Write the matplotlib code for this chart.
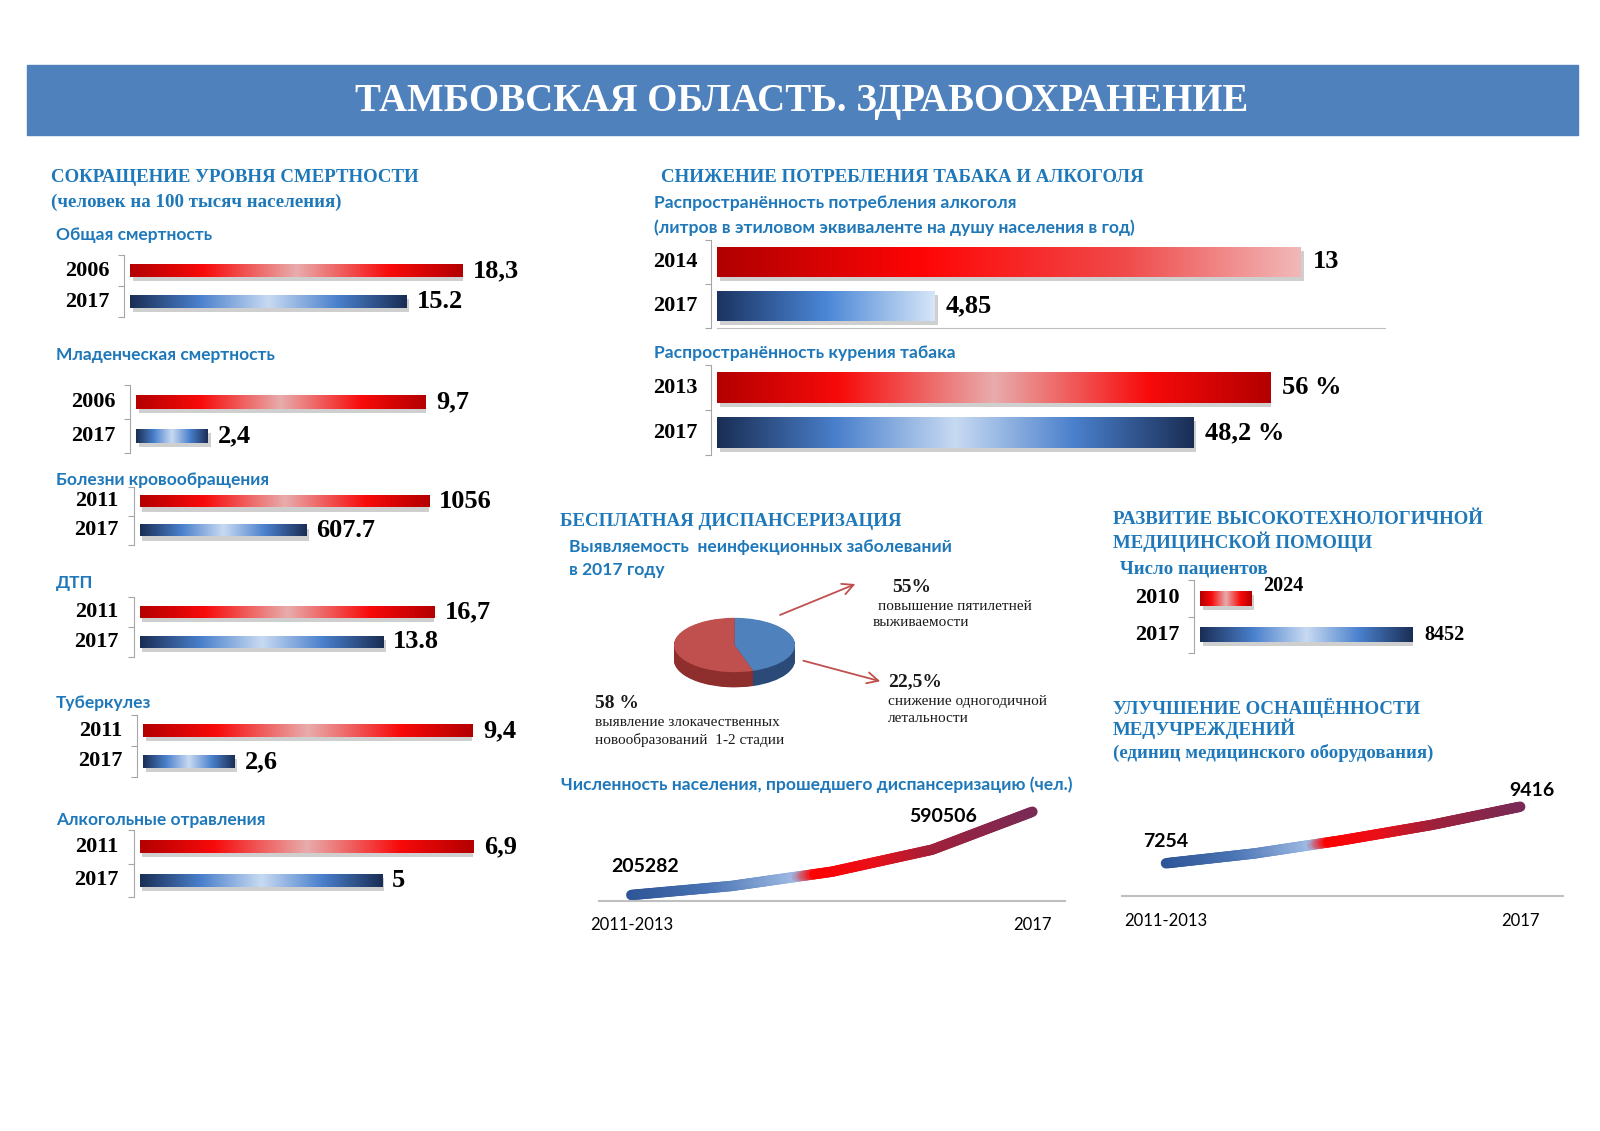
import numpy as np
import matplotlib
matplotlib.use('Agg')
import matplotlib.pyplot as plt
from matplotlib.colors import LinearSegmentedColormap
from matplotlib.collections import LineCollection
from matplotlib.patches import Rectangle
import matplotlib.patheffects as pe

# ---- data ----
mort_titles = ['Общая смертность', 'Младенческая смертность', 'Болезни кровообращения',
               'ДТП', 'Туберкулез', 'Алкогольные отравления']
mort_years = [['2006', '2017'], ['2006', '2017'], ['2011', '2017'],
              ['2011', '2017'], ['2011', '2017'], ['2011', '2017']]
mort_values = [[18.3, 15.2], [9.7, 2.4], [1056, 607.7], [16.7, 13.8], [9.4, 2.6], [6.9, 5]]
mort_labels = [['18,3', '15.2'], ['9,7', '2,4'], ['1056', '607.7'],
               ['16,7', '13.8'], ['9,4', '2,6'], ['6,9', '5']]

alcohol_years = ['2014', '2017']
alcohol_values = [13, 4.85]
alcohol_labels = ['13', '4,85']

smoking_years = ['2013', '2017']
smoking_values = [56, 48.2]
smoking_labels = ['56 %', '48,2 %']

patients_years = ['2010', '2017']
patients_values = [2024, 8452]
patients_labels = ['2024', '8452']

pie_values = [45, 55]  # blue, red

disp_values = [205282, 247000, 313000, 415000, 590506]
disp_ticks = ['2011-2013', '2017']
equip_values = [7254, 7630, 8140, 8720, 9416]
equip_ticks = ['2011-2013', '2017']

W, H = 1600, 1131
BLUE_T = '#1E78B9'
SERIF = 'Liberation Serif'
SANS = 'Lato'

red_sym = LinearSegmentedColormap.from_list('rs', [(0, '#B40000'), (0.22, '#F80A0A'), (0.5, '#E8ACAC'),
                                                   (0.78, '#F80A0A'), (1, '#B40000')])
blue_sym = LinearSegmentedColormap.from_list('bs', [(0, '#1A2E55'), (0.25, '#4A80CC'), (0.5, '#C8DAF2'),
                                                    (0.75, '#4A80CC'), (1, '#1A2E55')])
red_lin = LinearSegmentedColormap.from_list('rl', [(0, '#B00000'), (0.35, '#FF0505'), (0.7, '#F04A4A'),
                                                   (1, '#F2B8B8')])
blue_lin = LinearSegmentedColormap.from_list('bl', [(0, '#1C3462'), (0.5, '#4A86D6'), (1, '#D6E6F8')])
line_cmap = LinearSegmentedColormap.from_list('ln', [(0, '#2E5597'), (0.2, '#4A74B4'), (0.41, '#9DB9E3'),
                                                     (0.46, '#FF0000'), (0.62, '#E8101A'), (0.76, '#A0203A'),
                                                     (1, '#7A2A55')])

fig = plt.figure(figsize=(16, 11.31), dpi=100)
ax0 = fig.add_axes([0, 0, 1, 1])
ax0.set_xlim(0, W)
ax0.set_ylim(H, 0)
ax0.axis('off')


def px_axes(x0, y0, x1, y1):
    return fig.add_axes([x0 / W, 1 - y1 / H, (x1 - x0) / W, (y1 - y0) / H])


def bar_group(box, years, values, labels, cmaps, bar_px, year_size=16, val_size=19,
              axis_end=None, bottom_line=False, offsets=None, year_pad=15):
    x0, x1, y0, y1 = box
    right = axis_end if axis_end else x1
    ax = px_axes(x0, y0, right, y1)
    ypos = np.arange(len(values))
    h = bar_px * 2 / (y1 - y0)
    bars = ax.barh(ypos, values, height=h, color='#888888', zorder=2,
                   path_effects=[pe.SimplePatchShadow(offset=(2, -3), shadow_rgbFace='#777777', alpha=0.35),
                                 pe.Normal()])
    for b, cm in zip(bars, cmaps):
        im = ax.imshow(np.linspace(0, 1, 256)[None, :], cmap=cm, aspect='auto', interpolation='bicubic',
                       extent=[b.get_x(), b.get_x() + b.get_width(), b.get_y(), b.get_y() + b.get_height()],
                       zorder=3)
        im.set_clip_path(b)
    ax.set_xlim(0, max(values) * (right - x0) / (x1 - x0))
    ax.set_ylim(1.5, -0.5)
    for s in ['top', 'right']:
        ax.spines[s].set_visible(False)
    ax.spines['bottom'].set_visible(bottom_line)
    ax.spines['bottom'].set_color('#BFBFBF')
    ax.spines['left'].set_position(('outward', 4))
    ax.spines['left'].set_color('#A6A6A6')
    ax.set_yticks([-0.5, 0.5, 1.5])
    ax.set_yticklabels([])
    ax.tick_params(axis='y', length=4, color='#A6A6A6')
    ax.set_xticks([])
    ax.patch.set_alpha(0)
    for i, (yr, v, lab) in enumerate(zip(years, values, labels)):
        ax.annotate(yr, (0, i), xytext=(-year_pad, 0), textcoords='offset points', ha='right', va='center',
                    fontsize=year_size, fontweight='bold', family=SERIF, annotation_clip=False)
        off = offsets[i] if offsets else (7.5, 0)
        ax.annotate(lab, (v, i), xytext=off, textcoords='offset points', ha='left', va='center',
                    fontsize=val_size, fontweight='bold', family=SERIF, annotation_clip=False)
    return ax


def grad_line(ax, vals, lw):
    # the series stays as given; segments are split only so the colour can fade along the stroke
    xs = np.arange(len(vals))
    pts = []
    for i in range(len(vals) - 1):
        t = np.linspace(0, 1, 40, endpoint=False)
        pts.append(np.column_stack([xs[i] + t * (xs[i + 1] - xs[i]), vals[i] + t * (vals[i + 1] - vals[i])]))
    pts.append([[xs[-1], vals[-1]]])
    pts = np.vstack(pts)
    segs = np.stack([pts[:-1], pts[1:]], axis=1)
    lc = LineCollection(segs, cmap=line_cmap, linewidth=lw, capstyle='round')
    lc.set_array(np.linspace(0, 1, len(segs)))
    ax.add_collection(lc)


def line_axes(box, xlim, ylim, vals, ticks, lab_first, lab_last):
    ax = px_axes(*box)
    grad_line(ax, vals, 7.5)
    ax.set_xlim(*xlim)
    ax.set_ylim(*ylim)
    for s in ['top', 'right', 'left']:
        ax.spines[s].set_visible(False)
    ax.spines['bottom'].set_color('#BFBFBF')
    ax.spines['bottom'].set_linewidth(1.5)
    ax.set_yticks([])
    ax.set_xticks([0, len(vals) - 1])
    ax.set_xticklabels(ticks, fontsize=12, family=SANS)
    ax.tick_params(axis='x', length=0, pad=12)
    ax.patch.set_alpha(0)
    ax.annotate(f'{vals[0]}', (0, vals[0]), xytext=lab_first, textcoords='offset points', ha='center',
                va='center', fontsize=14, fontweight='bold', family=SANS, annotation_clip=False)
    ax.annotate(f'{vals[-1]}', (len(vals) - 1, vals[-1]), xytext=lab_last, textcoords='offset points',
                ha='center', va='center', fontsize=14, fontweight='bold', family=SANS, annotation_clip=False)


# ---- title banner ----
ax0.add_patch(Rectangle((26.5, 65), 1551, 69.5, color='#4F81BD'))
ax0.text(802, 101, 'ТАМБОВСКАЯ ОБЛАСТЬ. ЗДРАВООХРАНЕНИЕ', ha='center', va='center', color='white',
         fontsize=28, fontweight='bold', family=SERIF)

# ---- headings ----
serif_heads = [('СОКРАЩЕНИЕ УРОВНЯ СМЕРТНОСТИ', 51, 178), ('(человек на 100 тысяч населения)', 51, 202),
               ('СНИЖЕНИЕ ПОТРЕБЛЕНИЯ ТАБАКА И АЛКОГОЛЯ', 661, 178),
               ('БЕСПЛАТНАЯ ДИСПАНСЕРИЗАЦИЯ', 560, 521),
               ('РАЗВИТИЕ ВЫСОКОТЕХНОЛОГИЧНОЙ', 1113, 520), ('МЕДИЦИНСКОЙ ПОМОЩИ', 1113, 542),
               ('Число пациентов', 1120, 569),
               ('УЛУЧШЕНИЕ ОСНАЩЁННОСТИ', 1113, 708), ('МЕДУЧРЕЖДЕНИЙ', 1113, 729),
               ('(единиц медицинского оборудования)', 1113, 753)]
for s, x, y in serif_heads:
    ax0.text(x, y, s, ha='left', va='center', color=BLUE_T, fontsize=13.6, fontweight='bold', family=SERIF)

sans_heads = [('Распространённость потребления алкоголя', 654, 203),
              ('(литров в этиловом эквиваленте на душу населения в год)', 654, 228),
              ('Распространённость курения табака', 654, 353),
              ('Выявляемость  неинфекционных заболеваний', 569, 547), ('в 2017 году', 569, 570),
              ('Численность населения, прошедшего диспансеризацию (чел.)', 561, 785)]
for s, x, y in sans_heads:
    ax0.text(x, y, s, ha='left', va='center', color=BLUE_T, fontsize=12.6, fontweight='bold', family=SANS)

# ---- mortality groups ----
mort_layout = [(130, 462.5, 255, 317, 13, 235), (136, 426, 385, 453, 14, 355),
               (139.5, 428.7, 487, 545, 12, 480), (139.5, 434, 597, 657, 12, 583),
               (143, 472.5, 715, 777, 13, 703), (139.5, 473.5, 830, 897, 13, 820)]
for (x0, x1, y0, y1, bpx, ty), title, yrs, vals, labs in zip(mort_layout, mort_titles, mort_years,
                                                            mort_values, mort_labels):
    ax0.text(56, ty, title, ha='left', va='center', color=BLUE_T, fontsize=12.5, fontweight='bold', family=SANS)
    bar_group((x0, x1, y0, y1), yrs, vals, labs, [red_sym, blue_sym], bpx)

# ---- tobacco / alcohol ----
bar_group((717, 1301, 240, 328), alcohol_years, alcohol_values, alcohol_labels, [red_lin, blue_lin], 30,
          axis_end=1385, bottom_line=True, offsets=[(8.5, 0), (7.5, 0)], year_pad=14)
bar_group((717, 1270.5, 365, 455), smoking_years, smoking_values, smoking_labels, [red_sym, blue_sym], 31,
          offsets=[(8.5, 0), (8, 0)], year_pad=14)

# ---- patients ----
bar_group((1200, 1413, 580, 653), patients_years, patients_values, patients_labels, [red_sym, blue_sym], 15,
          val_size=14.5, offsets=[(8.5, 9), (8.5, 0)])

# ---- pie ----
axp = px_axes(674, 617, 795, 689)
for off in np.linspace(-0.56, -0.02, 28):
    axp.pie(pie_values, colors=['#2B4A78', '#8E2F2D'], startangle=90, counterclock=False,
            center=(0, off), wedgeprops=dict(linewidth=0))
axp.pie(pie_values, colors=['#4F81BD', '#C0504D'], startangle=90, counterclock=False,
        wedgeprops=dict(linewidth=0))
axp.set_aspect('auto')
axp.set_xlim(-1.0, 1.0)
axp.set_ylim(-1.62, 1.03)
axp.axis('off')

ax0.annotate('', xy=(858, 583), xytext=(777.5, 616),
             arrowprops=dict(arrowstyle='->', color='#C0504D', lw=1.3, mutation_scale=20))
ax0.annotate('', xy=(883, 682), xytext=(800.7, 660),
             arrowprops=dict(arrowstyle='->', color='#C0504D', lw=1.3, mutation_scale=20))

pie_notes = [('55%', 892, 587, True), ('повышение пятилетней', 877.5, 606, False), ('выживаемости', 873, 623, False),
             ('22,5%', 888, 682, True), ('снижение одногодичной', 888, 701, False), ('летальности', 888, 718, False),
             ('58 %', 595, 703, True), ('выявление злокачественных', 595, 723, False),
             ('новообразований  1-2 стадии', 595, 740, False)]
for s, x, y, bold in pie_notes:
    ax0.text(x, y, s, ha='left', va='center', family=SERIF, fontsize=14 if bold else 11,
             fontweight='bold' if bold else 'normal', color='#1a1a1a')

# ---- line charts ----
line_axes((598.5, 790, 1065, 900.7), (-0.327, 4.325), (178900, 691000), disp_values, disp_ticks,
          (10, 20.5), (-64, -3.6))
line_axes((1121.7, 760, 1562.7, 896), (-0.5, 4.48), (6005, 11200), equip_values, equip_ticks,
          (0, 15.5), (8.6, 11.5))

fig.savefig('out.png', dpi=100)
